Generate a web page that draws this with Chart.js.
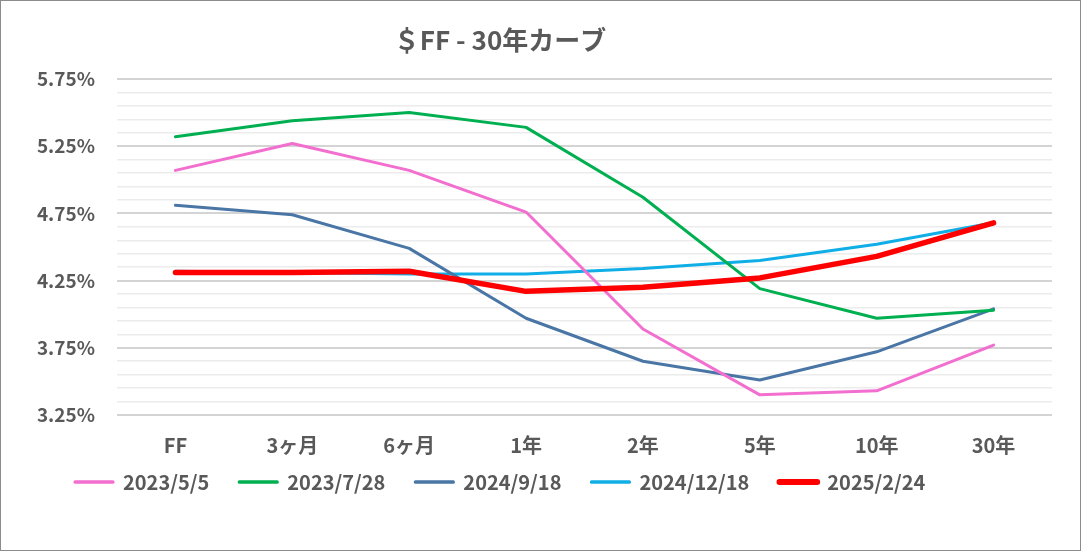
<!DOCTYPE html>
<html lang="ja">
<head>
    <meta charset="UTF-8">
    <title>＄FF - 30年カーブ</title>
    <style>
        html, body {
            margin: 0;
            padding: 0;
            background-color: white;
        }
        .frame {
            width: 1081px;
            height: 551px;
            box-sizing: border-box;
            border: 1px solid #8c8c8c;
            background: white;
        }
        .chart-container {
            position: relative;
            width: 1079px;
            height: 549px;
        }
    </style>
    <script src="https://cdn.jsdelivr.net/npm/chart.js"></script>
</head>
<body>
    <div class="frame">
        <div class="chart-container">
            <canvas id="curveChart"></canvas>
        </div>
    </div>

    <script>
        // 年限
        const tenors = ['FF', '3ヶ月', '6ヶ月', '1年', '2年', '5年', '10年', '30年'];

        // 各日付の利回り (%)
        const y20230505 = [5.07, 5.27, 5.07, 4.76, 3.89, 3.40, 3.43, 3.77];
        const y20230728 = [5.32, 5.44, 5.50, 5.39, 4.87, 4.19, 3.97, 4.03];
        const y20240918 = [4.81, 4.74, 4.49, 3.97, 3.65, 3.51, 3.72, 4.04];
        const y20241218 = [4.32, 4.31, 4.30, 4.30, 4.34, 4.40, 4.52, 4.68];
        const y20250224 = [4.31, 4.31, 4.32, 4.17, 4.20, 4.27, 4.43, 4.68];

        const seriesLabels = ['2023/5/5', '2023/7/28', '2024/9/18', '2024/12/18', '2025/2/24'];
        const seriesColors = ['#f26fcf', '#00b050', '#4a76a6', '#10aee6', '#ff0000'];

        // 目盛り
        const yMin = 3.25;
        const yMax = 5.75;
        const yLabelStep = 0.5;
        const yGridStep = 0.1;

        const textColor = '#595959';
        const fontFamily = "'Noto Sans CJK JP', 'Noto Sans', sans-serif";

        function isMajor(v) {
            const k = (v - yMin) / yLabelStep;
            return Math.abs(k - Math.round(k)) < 1e-6;
        }

        // タイトル (少し左寄り)
        const titlePlugin = {
            id: 'leftTitle',
            afterDraw(chart) {
                const ctx = chart.ctx;
                ctx.save();
                ctx.font = 'bold 26px ' + fontFamily;
                ctx.fillStyle = textColor;
                ctx.textAlign = 'center';
                ctx.textBaseline = 'middle';
                ctx.fillText('＄FF - 30年カーブ', 499, 39);
                ctx.restore();
            }
        };

        // 凡例の位置をずらす
        const legendShift = {
            id: 'legendShift',
            afterLayout(chart) {
                const lg = chart.legend;
                lg.left += 44;
                lg.right += 44;
                lg.top -= 33;
                lg.bottom -= 33;
            }
        };

        function makeDataset(label, data, color, width, order) {
            return {
                label: label,
                data: data,
                borderColor: color,
                backgroundColor: color,
                borderWidth: width,
                borderCapStyle: 'round',
                borderJoinStyle: 'round',
                pointRadius: 0,
                tension: 0,
                fill: false,
                order: order
            };
        }

        window.onload = function() {
            const ctx = document.getElementById('curveChart').getContext('2d');
            new Chart(ctx, {
                type: 'line',
                data: {
                    labels: tenors,
                    datasets: [
                        makeDataset(seriesLabels[0], y20230505, seriesColors[0], 3, 1),
                        makeDataset(seriesLabels[1], y20230728, seriesColors[1], 3, 1),
                        makeDataset(seriesLabels[2], y20240918, seriesColors[2], 3, 1),
                        makeDataset(seriesLabels[3], y20241218, seriesColors[3], 3, 1),
                        makeDataset(seriesLabels[4], y20250224, seriesColors[4], 5.5, 0)
                    ]
                },
                options: {
                    responsive: true,
                    maintainAspectRatio: false,
                    animation: false,
                    layout: {
                        padding: { top: 78, left: 0, right: 28, bottom: 15 }
                    },
                    scales: {
                        x: {
                            offset: true,
                            grid: { display: false },
                            border: { display: false },
                            ticks: {
                                color: textColor,
                                padding: 10,
                                font: { family: fontFamily, size: 20, weight: 'bold' }
                            },
                            afterFit(scale) { scale.height = 60; }
                        },
                        y: {
                            min: yMin,
                            max: yMax,
                            border: { display: false },
                            grid: {
                                drawTicks: false,
                                color: c => isMajor(c.tick.value) ? '#d4d4d4' : '#ececec',
                                lineWidth: c => isMajor(c.tick.value) ? 2 : 1.5
                            },
                            ticks: {
                                stepSize: yGridStep,
                                autoSkip: false,
                                padding: 22,
                                color: textColor,
                                font: { family: fontFamily, size: 19, weight: 'bold' },
                                callback: v => isMajor(v) ? v.toFixed(2) + '%' : ''
                            },
                            afterFit(scale) { scale.width = 116; }
                        }
                    },
                    plugins: {
                        title: { display: false },
                        tooltip: { enabled: false },
                        legend: {
                            display: true,
                            position: 'bottom',
                            align: 'start',
                            labels: {
                                boxWidth: 38,
                                boxHeight: 0.5,
                                padding: 30,
                                color: textColor,
                                font: { family: fontFamily, size: 20, weight: 'bold' },
                                sort: (a, b) => a.datasetIndex - b.datasetIndex
                            }
                        }
                    }
                },
                plugins: [titlePlugin, legendShift]
            });
        };
    </script>
</body>
</html>
